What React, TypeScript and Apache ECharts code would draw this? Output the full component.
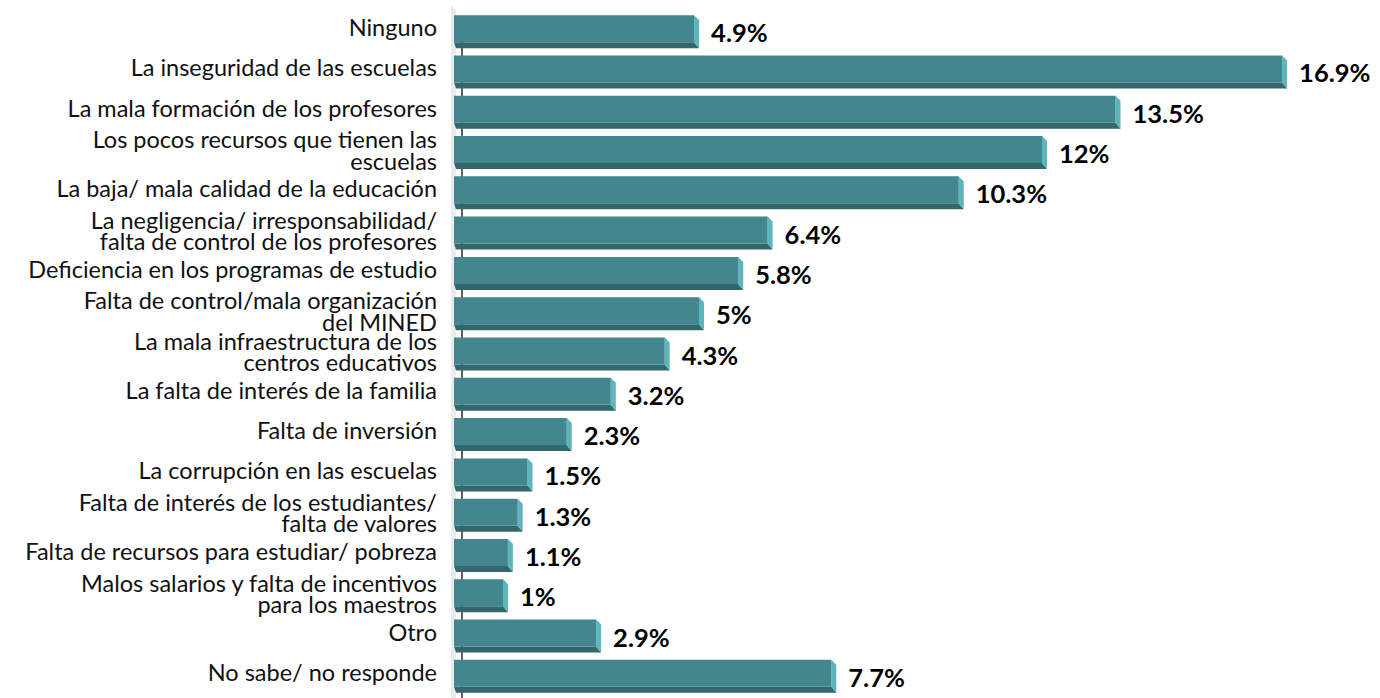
import React, { useEffect, useRef } from "react";
import * as echarts from "echarts";

const categories: string[] = [
  "Ninguno",
  "La inseguridad de las escuelas",
  "La mala formación de los profesores",
  "Los pocos recursos que tienen las\nescuelas",
  "La baja/ mala calidad de la educación",
  "La negligencia/ irresponsabilidad/\nfalta de control de los profesores",
  "Deficiencia en los programas de estudio",
  "Falta de control/mala organización\ndel MINED",
  "La mala infraestructura de los\ncentros educativos",
  "La falta de interés de la familia",
  "Falta de inversión",
  "La corrupción en las escuelas",
  "Falta de interés de los estudiantes/\nfalta de valores",
  "Falta de recursos para estudiar/ pobreza",
  "Malos salarios y falta de incentivos\npara los maestros",
  "Otro",
  "No sabe/ no responde",
];

const values: number[] = [4.9, 16.9, 13.5, 12, 10.3, 6.4, 5.8, 5, 4.3, 3.2, 2.3, 1.5, 1.3, 1.1, 1, 2.9, 7.7];

const FRONT = "#43868e";
const SIDE = "#5bb6bd";
const BOTTOM = "#33676b";

export default function App() {
  const ref = useRef<HTMLDivElement>(null);
  useEffect(() => {
    if (!ref.current) return;
    const chart = echarts.init(ref.current, null, { renderer: "svg" });
    const barData = values.map((v, i) => [v, i]);
    chart.setOption({
      animation: false,
      grid: { left: 454, right: 44, top: 11, bottom: 2, containLabel: false },
      xAxis: {
        type: "value",
        min: 0,
        max: 18,
        show: false,
      },
      yAxis: {
        type: "category",
        data: categories,
        inverse: true,
        axisLine: { show: false },
        axisTick: { show: false },
        splitLine: { show: false },
        axisLabel: { show: false },
      },
      series: [
        {
          type: "custom",
          silent: true,
          data: [[0, 0]],
          encode: { x: 0, y: 1 },
          renderItem: (params: any) => {
            const cs = params.coordSys;
            const x = cs.x;
            const top = cs.y;
            const bottom = cs.y + cs.height + 4;
            return {
              type: "group",
              children: [
                {
                  type: "polygon",
                  shape: {
                    points: [
                      [x - 3, top - 6],
                      [x + 2, top - 1],
                      [x + 2, bottom],
                      [x - 3, bottom],
                    ],
                  },
                  style: { fill: "#ebebeb" },
                },
                {
                  type: "line",
                  shape: { x1: x + 8, y1: top + 30, x2: x + 8, y2: bottom },
                  style: { stroke: "#2b2b2b", lineWidth: 1.5 },
                },
              ],
            };
          },
        },
        {
          type: "custom",
          silent: true,
          data: barData,
          encode: { x: 0, y: 1 },
          renderItem: (params: any, api: any) => {
            const val = api.value(0);
            const cat = api.value(1);
            const p0 = api.coord([0, cat]);
            const p1 = api.coord([val, cat]);
            const cy = p0[1];
            const x0 = p0[0];
            const x1 = p1[0];
            const y0 = cy - 16;
            const y1 = cy + 11;
            const d = 5;
            const db = 6;
            const label = `${val}%`;
            const catName = categories[params.dataIndex];
            const twoLine = catName.indexOf("\n") >= 0;
            return {
              type: "group",
              children: [
                {
                  type: "text",
                  x: x0 - 17,
                  y: cy - (twoLine ? 2 : 4),
                  style: {
                    text: catName,
                    fill: "#111",
                    font: "23.5px Lato",
                    lineHeight: 21.5,
                    align: "right",
                    verticalAlign: "middle",
                  },
                },
                {
                  type: "polygon",
                  shape: {
                    points: [
                      [x0, y1],
                      [x1, y1],
                      [x1 + d, y1 + db],
                      [x0 + 2, y1 + db],
                    ],
                  },
                  style: { fill: BOTTOM },
                },
                {
                  type: "polygon",
                  shape: {
                    points: [
                      [x1, y0],
                      [x1 + d, y0 + d],
                      [x1 + d, y1 + db],
                      [x1, y1],
                    ],
                  },
                  style: { fill: SIDE },
                },
                {
                  type: "rect",
                  shape: { x: x0, y: y0, width: x1 - x0, height: y1 - y0 },
                  style: { fill: FRONT },
                },
                {
                  type: "text",
                  x: x1 + d + 12,
                  y: cy + 1,
                  style: {
                    text: label,
                    fill: "#000",
                    font: "bold 25.5px Lato",
                    align: "left",
                    verticalAlign: "middle",
                  },
                },
              ],
            };
          },
        },
      ],
    });
    return () => chart.dispose();
  }, []);
  return (
    <div
      ref={ref}
      style={{ position: "absolute", left: 0, top: 0, width: 1380, height: 698, background: "#fff" }}
    />
  );
}
